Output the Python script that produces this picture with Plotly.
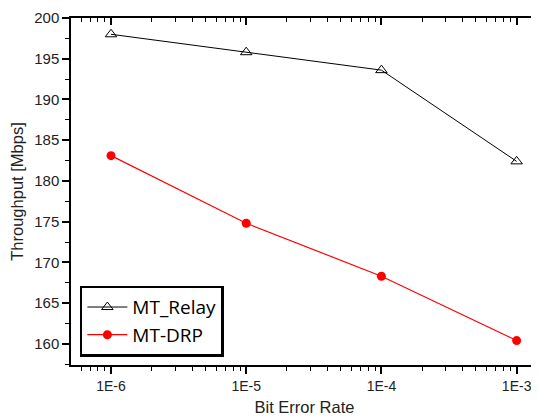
import plotly.graph_objects as go

ber = [1e-6, 1e-5, 1e-4, 1e-3]
ber_labels = ["1E-6", "1E-5", "1E-4", "1E-3"]
mt_relay = [198.0, 195.8, 193.6, 182.4]
mt_drp = [183.1, 174.8, 168.3, 160.4]

minor_x = [m * 10.0 ** e for e in (-7, -6, -5, -4, -3) for m in range(2, 10)]
XR = [-6.296, -2.842]
YR = [157.4, 200]

fig = go.Figure()
fig.add_trace(go.Scatter(
    x=ber, y=mt_relay, mode="lines+markers", name="MT_Relay",
    line=dict(color="black", width=1),
    marker=dict(symbol="triangle-up-open", size=10, color="black", line=dict(width=1)),
))
fig.add_trace(go.Scatter(
    x=ber, y=mt_drp, mode="lines+markers", name="MT-DRP",
    line=dict(color="#ff0000", width=1.2),
    marker=dict(symbol="circle", size=9, color="#ff0000"),
))
# invisible copy on the mirrored (top/right) axes so their inward ticks get drawn
fig.add_trace(go.Scatter(
    x=ber, y=mt_relay, xaxis="x2", yaxis="y2", mode="markers",
    marker=dict(opacity=0), showlegend=False, hoverinfo="skip",
))

# page body has an 8px margin: figure is 531x409 so plot sits at page coords
tickfont = dict(family="Liberation Sans, Arial", size=14, color="#222")
fig.update_layout(
    width=531, height=409,
    margin=dict(l=63, r=1, t=10, b=52, autoexpand=False),
    paper_bgcolor="white", plot_bgcolor="white",
    showlegend=True,
    xaxis=dict(
        type="log", range=XR, tickvals=ber, ticktext=ber_labels, automargin=False,
        showline=True, mirror=True, linecolor="black", linewidth=1.5,
        ticks="outside", ticklen=7, tickwidth=1.5, tickcolor="black",
        minor=dict(tickvals=minor_x, ticks="outside", ticklen=4, tickwidth=1.2, tickcolor="black"),
        showgrid=False, zeroline=False, tickfont=tickfont,
        title=dict(text="Bit Error Rate", font=dict(family="Liberation Sans, Arial", size=16.5, color="#222"), standoff=9),
    ),
    xaxis2=dict(
        type="log", range=XR, overlaying="x", side="top", anchor="y2",
        tickmode="array", tickvals=ber, automargin=False,
        showticklabels=False, showline=False,
        ticks="inside", ticklen=7, tickwidth=1.5, tickcolor="black",
        minor=dict(tickvals=minor_x, ticks="inside", ticklen=4, tickwidth=1.2, tickcolor="black"),
        showgrid=False, zeroline=False,
    ),
    yaxis=dict(
        range=YR, tick0=160, dtick=5, automargin=False,
        showline=True, mirror=True, linecolor="black", linewidth=1.5,
        ticks="outside", ticklen=7, tickwidth=1.5, tickcolor="black",
        minor=dict(dtick=2.5, tick0=160, ticks="outside", ticklen=4, tickwidth=1.2, tickcolor="black"),
        showgrid=False, zeroline=False, tickfont=dict(family="Liberation Sans, Arial", size=15, color="#222"),
        title=dict(text="Throughput [Mbps]", font=dict(family="Liberation Sans, Arial", size=16.5, color="#222"), standoff=8),
    ),
    yaxis2=dict(
        range=YR, overlaying="y", side="right", anchor="x2", tick0=160, dtick=5, automargin=False,
        showticklabels=False, showline=False,
        ticks="inside", ticklen=7, tickwidth=1.5, tickcolor="black",
        minor=dict(dtick=2.5, tick0=160, ticks="inside", ticklen=4, tickwidth=1.2, tickcolor="black"),
        showgrid=False, zeroline=False,
    ),
    legend=dict(
        x=0.019, y=0.024, xanchor="left", yanchor="bottom",
        bgcolor="white", bordercolor="black", borderwidth=2.5,
        font=dict(family="Open Sans", size=19, color="black"),
        tracegroupgap=0, itemwidth=40,
    ),
)

fig.write_html("out.html")
